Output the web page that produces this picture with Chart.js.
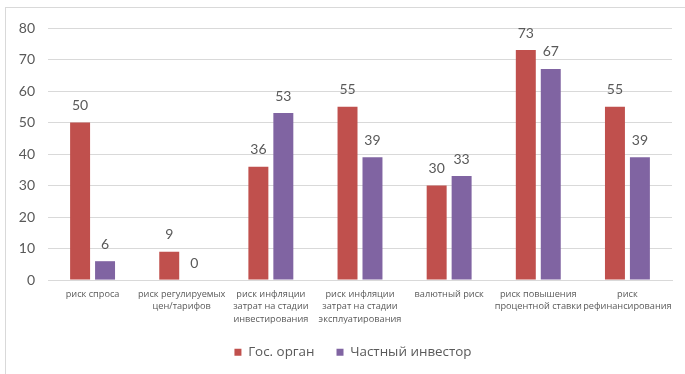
<!DOCTYPE html>
<html>
<head>
<meta charset="utf-8">
<script src="https://cdn.jsdelivr.net/npm/chart.js@4.4.1/dist/chart.umd.min.js"></script>
<style>
  html, body { margin: 0; padding: 0; background: #ffffff; }
  #wrap { position: relative; width: 685px; height: 374px; overflow: hidden; }
  #frame { position: absolute; left: 5px; top: 7px; width: 720px; height: 420px;
           border-left: 1px solid #d9d9d9; border-top: 1px solid #d9d9d9; pointer-events: none; }
  canvas { position: absolute; left: 0; top: 0; }
</style>
</head>
<body>
<div id="wrap">
  <canvas id="chart" width="685" height="374"></canvas>
  <div id="frame"></div>
</div>
<script>
// Risk categories (multi-line axis labels)
const categories = [
  ['риск спроса'],
  ['риск регулируемых', 'цен/тарифов'],
  ['риск инфляции', 'затрат на стадии', 'инвестирования'],
  ['риск инфляции', 'затрат на стадии', 'эксплуатирования'],
  ['валютный риск'],
  ['риск повышения', 'процентной ставки'],
  ['риск', 'рефинансирования']
];
const seriesNames = ['Гос. орган', 'Частный инвестор'];
const govValues = [50, 9, 36, 55, 30, 73, 55];
const investorValues = [6, 0, 53, 39, 33, 67, 39];
const yTicks = [0, 10, 20, 30, 40, 50, 60, 70, 80];

const TEXT = '#595959';
const GRID = '#d9d9d9';

// Prints each bar's value above it
const valueLabels = {
  id: 'valueLabels',
  afterDatasetsDraw(chart) {
    const ctx = chart.ctx;
    ctx.save();
    ctx.font = '14px Lato, "Open Sans", sans-serif';
    ctx.fillStyle = TEXT;
    ctx.textAlign = 'center';
    ctx.textBaseline = 'middle';
    chart.data.datasets.forEach((ds, i) => {
      const meta = chart.getDatasetMeta(i);
      meta.data.forEach((bar, j) => {
        ctx.fillText(String(ds.data[j]), bar.x, bar.y - 17);
      });
    });
    ctx.restore();
  }
};

// Nudges the legend row slightly left of the plot centre
const legendShift = {
  id: 'legendShift',
  afterLayout(chart) {
    if (chart.legend) {
      chart.legend.left -= 7;
      chart.legend.right -= 7;
    }
  }
};

new Chart(document.getElementById('chart'), {
  type: 'bar',
  data: {
    labels: categories,
    datasets: [
      { label: seriesNames[0], data: govValues, backgroundColor: '#C0504D' },
      { label: seriesNames[1], data: investorValues, backgroundColor: '#8064A2' }
    ]
  },
  options: {
    responsive: false,
    animation: false,
    events: [],
    layout: { padding: { top: 28, right: 13, bottom: 5, left: 0 } },
    categoryPercentage: 0.56,
    barPercentage: 0.8,
    scales: {
      x: {
        grid: { display: false, drawTicks: false },
        border: { display: true, color: GRID, width: 1 },
        ticks: {
          color: TEXT,
          font: { family: '"Open Sans", sans-serif', size: 9.2, lineHeight: 1.36 },
          padding: 8,
          maxRotation: 0,
          autoSkip: false
        },
        afterFit(scale) { scale.height = 43.5; }
      },
      y: {
        min: 0,
        max: 80,
        afterBuildTicks(scale) { scale.ticks = yTicks.map(v => ({ value: v })); },
        grid: { color: GRID, lineWidth: 1, drawTicks: false },
        border: { display: false },
        ticks: {
          color: TEXT,
          font: { family: 'Lato, "Open Sans", sans-serif', size: 14 },
          padding: 13
        },
        afterFit(scale) { scale.width = 48; }
      }
    },
    plugins: {
      legend: {
        position: 'bottom',
        fullSize: false,
        labels: {
          boxWidth: 7,
          boxHeight: 7,
          padding: 22,
          color: TEXT,
          font: { family: '"Open Sans", sans-serif', size: 13.4 }
        }
      },
      tooltip: { enabled: false }
    }
  },
  plugins: [valueLabels, legendShift]
});
</script>
</body>
</html>
